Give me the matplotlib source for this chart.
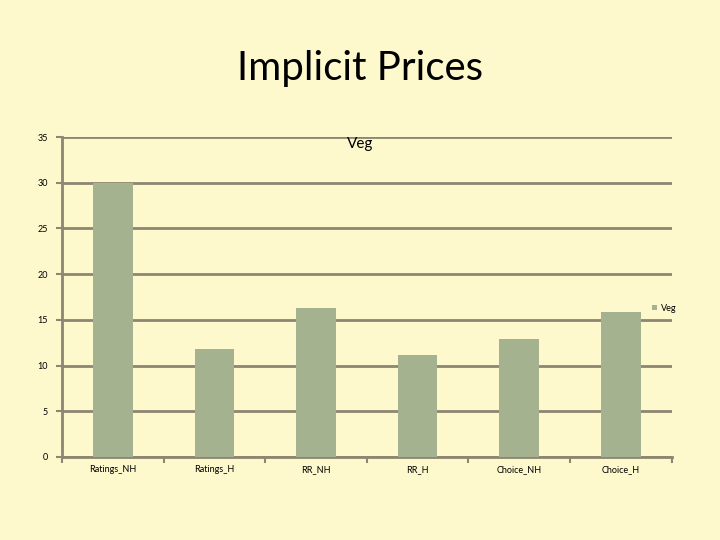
import matplotlib.pyplot as plt
import numpy as np
from matplotlib.patches import Patch

categories = ["Ratings_NH", "Ratings_H", "RR_NH", "RR_H", "Choice_NH", "Choice_H"]
veg = [30.0, 11.8, 16.3, 11.2, 12.9, 15.9]
yticks = [0, 5, 10, 15, 20, 25, 30, 35]

BG = "#fef9cc"
BAR = "#a5b28f"
GRID = "#8c8672"

fig = plt.figure(figsize=(7.2, 5.4), dpi=100)
fig.patch.set_facecolor(BG)
ax = fig.add_axes([0.086, 0.154, 0.847, 0.592])
ax.set_facecolor(BG)

x = np.arange(len(categories))
ax.bar(x, veg, width=0.39, color=BAR, zorder=3, label="Veg")

ax.set_xlim(-0.5, len(categories) - 0.5)
ax.set_ylim(0, 35)
ax.set_yticks(yticks)
ax.set_yticklabels([str(t) for t in yticks], fontsize=6.5, family="Lato")
ax.yaxis.grid(True, color=GRID, linewidth=2, zorder=1)
ax.set_axisbelow(True)

# category labels centred, tick marks on the boundaries
ax.set_xticks(x)
ax.set_xticklabels(categories, fontsize=6.5, family="Lato")
ax.tick_params(axis="x", length=0, pad=6)
ax.set_xticks(np.arange(-0.5, len(categories)), minor=True)
ax.tick_params(axis="x", which="minor", length=4, width=1.5, color=GRID)
ax.tick_params(axis="y", length=4, width=1.5, color=GRID, pad=6)

for s in ["top", "right"]:
    ax.spines[s].set_visible(False)
for s in ["left", "bottom"]:
    ax.spines[s].set_color(GRID)
    ax.spines[s].set_linewidth(2)

fig.text(0.5, 0.873, "Implicit Prices", ha="center", va="center", fontsize=29, family="Lato")
fig.text(0.5, 0.733, "Veg", ha="center", va="center", fontsize=11, family="Lato")

leg = ax.legend(handles=[Patch(facecolor=BAR, label="Veg")], loc="center left",
                bbox_to_anchor=(0.955, 0.465), frameon=False,
                handlelength=0.5, handleheight=0.5, handletextpad=0.4,
                prop={"family": "Lato", "size": 6.5})

fig.savefig("out.png", dpi=100, facecolor=BG)
